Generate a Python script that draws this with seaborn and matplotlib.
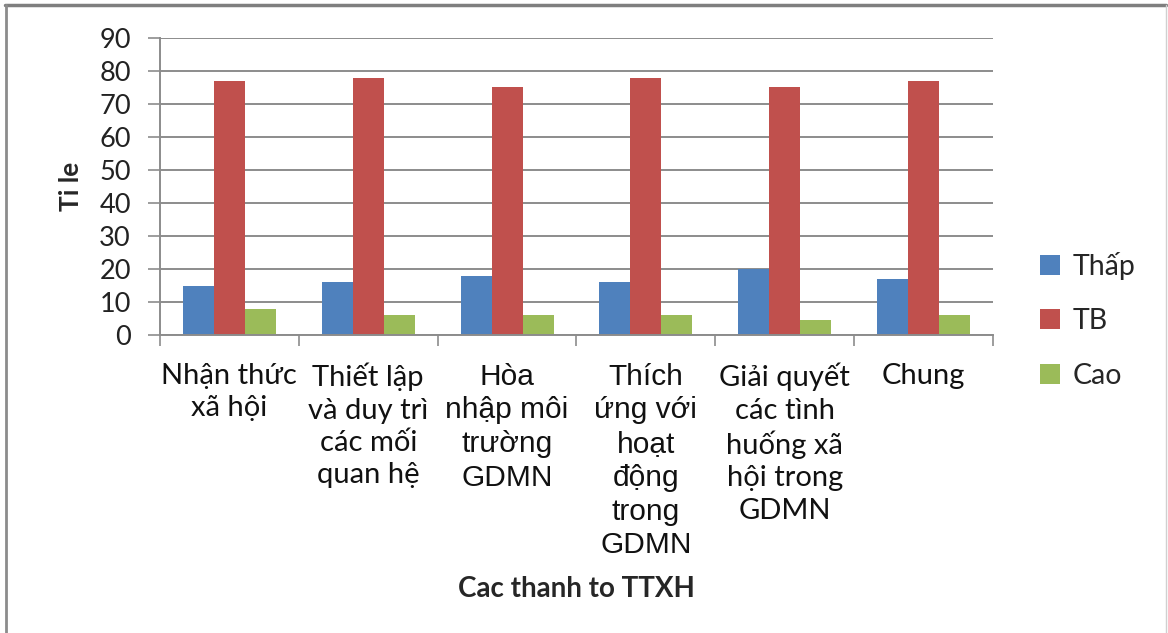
import matplotlib
matplotlib.use("Agg")
import matplotlib.pyplot as plt
from matplotlib.lines import Line2D
import seaborn as sns
import pandas as pd
import numpy as np

categories = [
    "Nhận thức\nxã hội",
    "Thiết lập\nvà duy trì\ncác mối\nquan hệ",
    "Hòa\nnhập môi\ntrường\nGDMN",
    "Thích\nứng với\nhoạt\nđộng\ntrong\nGDMN",
    "Giải quyết\ncác tình\nhuống xã\nhội trong\nGDMN",
    "Chung",
]
series = ["Thấp", "TB", "Cao"]
thap = [15, 16, 18, 16, 20, 17]
tb = [77, 78, 75, 78, 75, 77]
cao = [8, 6, 6, 6, 4.5, 6]
y_ticks = [0, 10, 20, 30, 40, 50, 60, 70, 80, 90]

colors = ["#4F81BD", "#C0504D", "#9BBB59"]

df = pd.DataFrame({
    "cat": categories * 3,
    "series": [s for s in series for _ in categories],
    "value": thap + tb + cao,
})

sns.set_theme(style="white")
plt.rcParams["font.family"] = ["Lato", "DejaVu Sans"]

fig = plt.figure(figsize=(11.68, 6.33), dpi=100)
ax = fig.add_axes([160 / 1168, 1 - 335 / 633, (993 - 160) / 1168, (335 - 38) / 633])

sns.barplot(data=df, x="cat", y="value", hue="series", order=categories,
            hue_order=series, palette=colors, width=0.67, linewidth=0,
            saturation=1, ax=ax)

grid_c = "#8C8C8C"
ax.set_ylim(0, 90)
ax.set_xlim(-0.5, len(categories) - 0.5)
ax.set_yticks(y_ticks)
ax.set_yticklabels([str(v) for v in y_ticks], fontsize=19.5, color="#222222")
ax.yaxis.grid(True, color=grid_c, linewidth=1.4)
ax.set_axisbelow(True)
ax.tick_params(axis="y", direction="out", length=9, width=1.2, color=grid_c, pad=12, left=True)

# category labels between boundary ticks
ax.set_xticks(np.arange(len(categories)))
ax.set_xticklabels(categories, fontsize=21, color="#111111", linespacing=1.3, va="top")
ax.tick_params(axis="x", which="major", length=0, pad=20)
ax.set_xticks(np.arange(-0.5, len(categories)), minor=True)
ax.tick_params(axis="x", which="minor", direction="out", length=8, width=1.2, color=grid_c, bottom=True)
for i, lab in enumerate(ax.get_xticklabels()):
    if i in (2, 3):
        lab.set_family(["Liberation Sans", "DejaVu Sans"])
        lab.set_fontsize(21.5)
        lab.set_linespacing(1.26)

for side in ("top", "right"):
    ax.spines[side].set_visible(False)
for side in ("left", "bottom"):
    ax.spines[side].set_color(grid_c)
    ax.spines[side].set_linewidth(1.4)

ax.set_xlabel("Cac thanh to TTXH", fontsize=20, fontweight="bold", labelpad=12)
ax.set_ylabel("Ti le", fontsize=19, fontweight="bold", labelpad=12)

leg = ax.legend(loc="center left", bbox_to_anchor=(1.043, 0.05), frameon=False,
                fontsize=20.5, handlelength=0.7, handleheight=0.7,
                labelspacing=1.0, handletextpad=0.45, borderaxespad=0)

# outer frame of the chart area
fig.add_artist(Line2D([5 / 1168, 1166 / 1168], [1 - 5 / 633, 1 - 5 / 633],
                      color="#7F7F7F", linewidth=2.5, transform=fig.transFigure))
fig.add_artist(Line2D([6 / 1168, 6 / 1168], [0, 1 - 5 / 633],
                      color="#8C8C8C", linewidth=2, transform=fig.transFigure))
fig.add_artist(Line2D([1166 / 1168, 1166 / 1168], [0, 1 - 5 / 633],
                      color="#D0D0D0", linewidth=1, transform=fig.transFigure))

fig.savefig("out.png", dpi=100)
